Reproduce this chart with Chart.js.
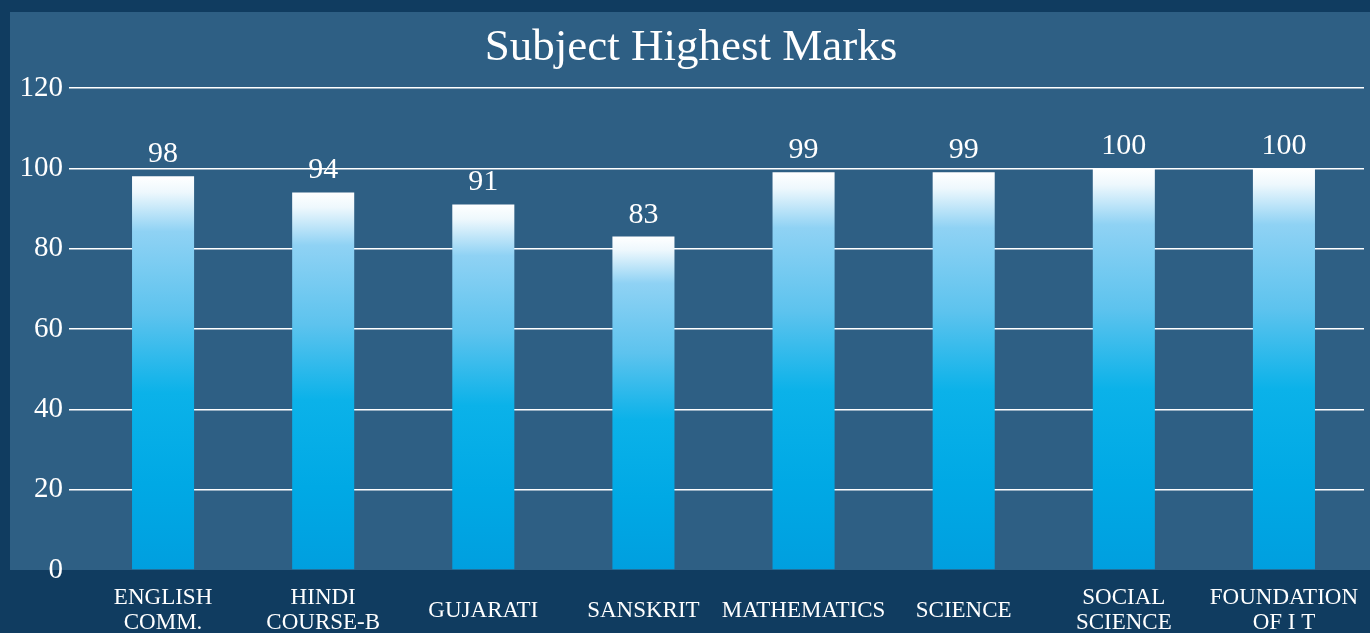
<!DOCTYPE html>
<html>
<head>
<meta charset="utf-8">
<title>Subject Highest Marks</title>
<script src="https://cdn.jsdelivr.net/npm/chart.js@4/dist/chart.umd.min.js"></script>
<style>
  html, body { margin: 0; padding: 0; background: #103c60; overflow: hidden; }
  canvas { display: block; }
</style>
</head>
<body>
<canvas id="chart" width="1370" height="633"></canvas>
<script>
const subjects = [
  ['ENGLISH', 'COMM.'],
  ['HINDI', 'COURSE-B'],
  'GUJARATI',
  'SANSKRIT',
  'MATHEMATICS',
  'SCIENCE',
  ['SOCIAL', 'SCIENCE'],
  ['FOUNDATION', 'OF I T']
]
const highestMarks = [98, 94, 91, 83, 99, 99, 100, 100]
const yTicks = [0, 20, 40, 60, 80, 100, 120]

const serif = '"Liberation Serif", "Times New Roman", serif'

// per-bar gradient, white at the top fading into cyan
function barGradient(ctx) {
  const chart = ctx.chart
  if (!chart.chartArea || ctx.raw == null) return '#00aee8'
  const y = chart.scales.y
  const top = y.getPixelForValue(ctx.raw)
  const bottom = y.getPixelForValue(0)
  const g = chart.ctx.createLinearGradient(0, top, 0, bottom)
  g.addColorStop(0, '#ffffff')
  g.addColorStop(0.04, '#eef8fd')
  g.addColorStop(0.14, '#8fd2f4')
  g.addColorStop(0.35, '#5dc3ee')
  g.addColorStop(0.55, '#0bb2e9')
  g.addColorStop(0.78, '#00a9e5')
  g.addColorStop(1, '#009fdf')
  return g
}

const backdrop = {
  id: 'backdrop',
  beforeDraw(chart) {
    const { ctx, width, height, chartArea } = chart
    ctx.save()
    ctx.fillStyle = '#103c60'
    ctx.fillRect(0, 0, width, height)
    ctx.fillStyle = '#2e5f84'
    ctx.fillRect(10, 12, width - 10, chartArea.bottom - 12)
    ctx.restore()
  }
}

const valueLabels = {
  id: 'valueLabels',
  afterDatasetsDraw(chart) {
    const { ctx } = chart
    const meta = chart.getDatasetMeta(0)
    ctx.save()
    ctx.fillStyle = '#ffffff'
    ctx.font = '30px ' + serif
    ctx.textAlign = 'center'
    ctx.textBaseline = 'alphabetic'
    meta.data.forEach((bar, i) => {
      ctx.fillText(String(highestMarks[i]), bar.x, bar.y - 14)
    })
    ctx.restore()
  }
}

new Chart(document.getElementById('chart'), {
  type: 'bar',
  data: {
    labels: subjects,
    datasets: [{
      label: 'Highest Marks',
      data: highestMarks,
      backgroundColor: barGradient,
      borderWidth: 0,
      categoryPercentage: 1,
      barPercentage: 0.3875
    }]
  },
  options: {
    responsive: false,
    animation: false,
    layout: {
      padding: { top: 21, left: 18, right: 6, bottom: 0 }
    },
    plugins: {
      legend: { display: false },
      tooltip: { enabled: false },
      title: {
        display: true,
        text: 'Subject Highest Marks',
        color: '#ffffff',
        font: { family: serif, size: 45, weight: 'normal', lineHeight: 1.2 },
        padding: { top: 0, bottom: 13 }
      }
    },
    scales: {
      x: {
        afterFit(scale) {
          scale.height = 63
          scale.paddingLeft = 0
          scale.paddingRight = 0
        },
        grid: { display: false, drawTicks: false },
        border: { display: false },
        ticks: {
          color: '#ffffff',
          font: { family: serif, size: 23, lineHeight: 1.1 },
          padding: 28,
          maxRotation: 0,
          autoSkip: false,
          crossAlign: 'center'
        }
      },
      y: {
        min: 0,
        max: 120,
        afterFit(scale) { scale.width = 65 },
        afterBuildTicks(scale) { scale.ticks = yTicks.map(v => ({ value: v })) },
        grid: {
          color: ctx => ctx.tick && ctx.tick.value === 0 ? 'rgba(0,0,0,0)' : '#ffffff',
          lineWidth: 1.5,
          tickLength: 14
        },
        border: { display: false },
        ticks: {
          color: '#ffffff',
          font: { family: serif, size: 29 },
          padding: 6
        }
      }
    }
  },
  plugins: [backdrop, valueLabels]
})
</script>
</body>
</html>
